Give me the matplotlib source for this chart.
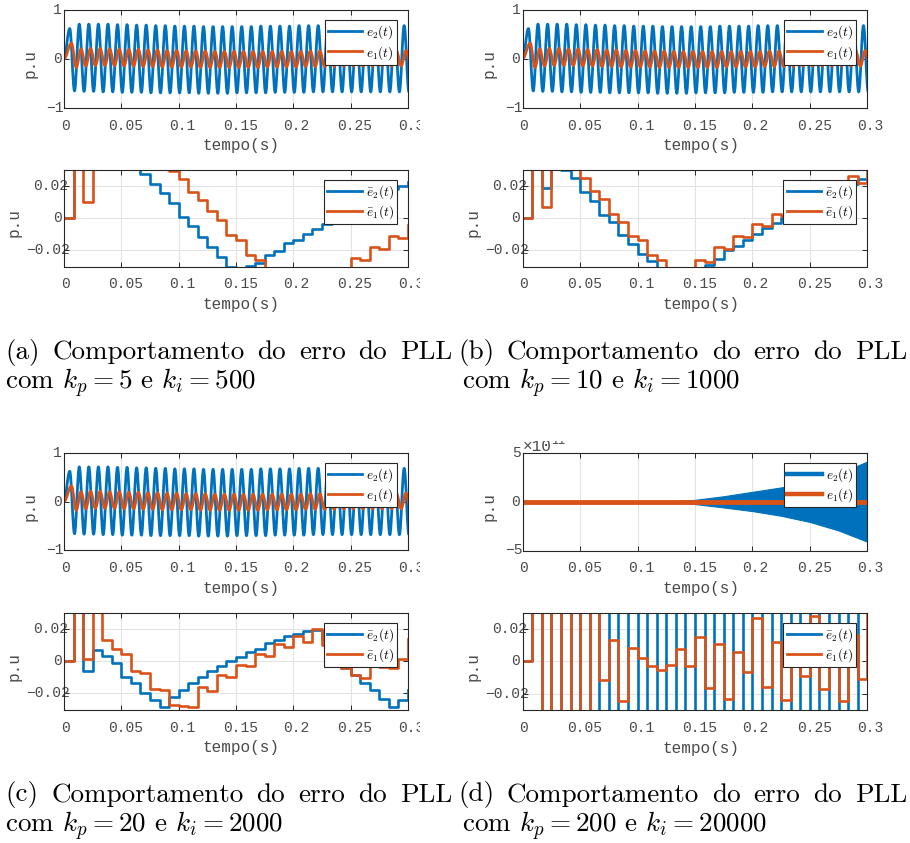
import numpy as np
import matplotlib
matplotlib.use("Agg")
import matplotlib.pyplot as plt
from matplotlib.path import Path
from matplotlib.patches import PathPatch, Rectangle
from matplotlib.lines import Line2D
from matplotlib.transforms import blended_transform_factory, offset_copy

# ---------------- data ----------------
X_TICKS = [0, 0.05, 0.1, 0.15, 0.2, 0.25, 0.3]
X_TICKLABELS = ["0", "0.05", "0.1", "0.15", "0.2", "0.25", "0.3"]
TOP_YTICKS = [-1, 0, 1]
TOP_YTICKLABELS = ["\u22121", "0", "1"]
BOT_YTICKS = [-0.02, 0, 0.02]
BOT_YTICKLABELS = ["\u22120.02", "0", "0.02"]
D_YTICKS = [-5e11, 0, 5e11]
D_YTICKLABELS = ["\u22125", "0", "5"]

OSC_FREQ = 120.0          # Hz, oscillation of e1/e2
STEP_PERIOD = 1 / 120.0   # s, sample period of the averaged errors
E2_FIRST_PEAK = 0.0050
E1_FIRST_PEAK = 0.0065

# top panels (a), (b), (c): extrema of each cycle
E2_PEAKS = [0.62, 0.71, 0.71, 0.71, 0.71, 0.70, 0.70, 0.69, 0.69, 0.68, 0.68, 0.67,
            0.67, 0.67, 0.66, 0.66, 0.66, 0.66, 0.66, 0.66, 0.67, 0.67, 0.67, 0.67,
            0.68, 0.68, 0.68, 0.68, 0.68, 0.68, 0.68, 0.68, 0.68, 0.68, 0.68, 0.68]
E2_TROUGHS = [-0.66, -0.67, -0.67, -0.68, -0.68, -0.69, -0.69, -0.69, -0.70, -0.70, -0.70, -0.70,
              -0.70, -0.71, -0.71, -0.71, -0.71, -0.70, -0.70, -0.70, -0.70, -0.69, -0.69, -0.69,
              -0.69, -0.68, -0.68, -0.68, -0.68, -0.68, -0.68, -0.68, -0.68, -0.68, -0.68, -0.68]
E1_PEAKS = [0.32, 0.20, 0.21, 0.21, 0.20, 0.20, 0.19, 0.19, 0.18, 0.18, 0.17, 0.17,
            0.16, 0.16, 0.16, 0.15, 0.15, 0.15, 0.15, 0.15, 0.15, 0.15, 0.15, 0.15,
            0.15, 0.16, 0.16, 0.16, 0.16, 0.16, 0.16, 0.17, 0.17, 0.17, 0.17, 0.17]
E1_TROUGHS = [-0.18, -0.15, -0.14, -0.14, -0.14, -0.15, -0.15, -0.16, -0.16, -0.17, -0.17, -0.17,
              -0.17, -0.18, -0.18, -0.18, -0.18, -0.18, -0.18, -0.18, -0.17, -0.17, -0.17, -0.17,
              -0.16, -0.16, -0.16, -0.16, -0.15, -0.15, -0.15, -0.15, -0.15, -0.15, -0.15, -0.15]

# panel (d) top: envelope of the diverging e2 (x 1e11) and e1
D_ENV_T = [0.0, 0.10, 0.12, 0.14, 0.15, 0.175, 0.20, 0.225, 0.25, 0.275, 0.30]
D_ENV_UP = [0.0, 0.0, 0.03, 0.10, 0.18, 0.55, 1.00, 1.45, 2.00, 2.85, 4.10]
D_ENV_LO = [0.0, 0.0, -0.04, -0.15, -0.25, -0.60, -0.97, -1.45, -2.08, -2.95, -4.10]
D_E1_T = [0.0, 0.30]
D_E1 = [0.0, 0.0]

# lower panels: averaged errors, one value per sample (37 values, off-scale when beyond +/-0.03)
A_EB2 = [0, 0.06, 0.06, 0.06, 0.06, 0.06, 0.06, 0.06, 0.0275, 0.0213, 0.0155, 0.0093,
         0.0006, -0.0048, -0.0118, -0.018, -0.0242, -0.0305, -0.0315, -0.0296, -0.028, -0.0228,
         -0.0207, -0.0155, -0.0135, -0.0097, -0.0068, -0.0035, -0.0006, 0.003, 0.006, 0.009,
         0.012, 0.015, 0.018, 0.020, 0.0225]
A_EB1 = [0, 0.06, 0.0099, 0.06, 0.06, 0.06, 0.06, 0.06, 0.06, 0.06, 0.06, 0.029,
         0.024, 0.016, 0.011, 0.0041, -0.0014, -0.0103, -0.0135, -0.0228, -0.026, -0.06,
         -0.06, -0.06, -0.06, -0.06, -0.06, -0.06, -0.06, -0.06, -0.0248, -0.026,
         -0.018, -0.0193, -0.0114, -0.0124, -0.0045]
B_EB2 = [0, 0.06, 0.0185, 0.06, 0.0298, 0.0248, 0.0158, 0.0105, 0.002, -0.0027, -0.0105, -0.0158,
         -0.0225, -0.0263, -0.06, -0.06, -0.06, -0.06, -0.06, -0.0288, -0.0253, -0.020,
         -0.0175, -0.0133, -0.0099, -0.0063, -0.0032, 0.0, 0.003, 0.007, 0.010, 0.013,
         0.016, 0.019, 0.021, 0.024, 0.024]
B_EB1 = [0, 0.06, 0.007, 0.06, 0.06, 0.06, 0.0248, 0.0164, 0.0116, 0.0025, -0.0027, -0.0112,
         -0.0137, -0.0227, -0.0257, -0.06, -0.06, -0.06, -0.0257, -0.027, -0.0179, -0.0194,
         -0.0112, -0.012, -0.0036, -0.0048, 0.0027, 0.0015, 0.008, 0.007, 0.013, 0.012,
         0.018, 0.017, 0.026, 0.0217, 0.06]
C_EB2 = [0, 0.06, -0.006, 0.0068, 0.0031, -0.001, -0.0096, -0.0137, -0.0199, -0.024, -0.0285, -0.022,
         -0.0178, -0.0137, -0.010, -0.006, -0.0031, 0.0, 0.0027, 0.0057, 0.0078, 0.0113,
         0.0129, 0.0154, 0.017, 0.0187, 0.019, 0.014, -0.0015, -0.0045, -0.0086, -0.0133,
         -0.0178, -0.0236, -0.0285, -0.024, -0.0178]
C_EB1 = [0, 0.06, 0.001, 0.06, 0.0129, 0.0072, 0.0047, -0.006, -0.0072, -0.0174, -0.0178, -0.027,
         -0.028, -0.0285, -0.0158, -0.0183, -0.0086, -0.010, -0.0025, -0.0031, 0.0047, 0.0031,
         0.0109, 0.0088, 0.0154, 0.0119, 0.0201, 0.0098, 0.005, -0.0045, -0.0086, -0.0107,
         0.012, -0.0035, -0.004, 0.001, 0.014]
D_EB2 = [0, 1, -1, 1, -1, 1, -1, 1, -1, 1, -1, 1, -1, 1, -1, 1, -1, 1, -1, 1, -1, 1,
         -1, 1, -1, 1, -1, 1, -1, 1, -1, 1, -1, 1, -1, 1, 1]
D_EB1 = [0, 1, -1, 1, -1, 1, -1, 1, -0.0118, 0.0131, -0.0246, 0.008,
         0.0023, -0.0027, -0.0051, -0.002, 0.0076, -0.0027, 0.0152, -0.0162, 0.011, -0.0232,
         0.0055, -0.0068, 0.0265, -0.016, 0.0117, -0.0236, 0.012, -0.009, 0.028, -0.017,
         0.015, -0.0246, 0.016, -0.0107, 1]

CAPTIONS = [
    (["(a)", "Comportamento", "do", "erro", "do", "PLL"], r"com $k_p = 5$ e $k_i = 500$"),
    (["(b)", "Comportamento", "do", "erro", "do", "PLL"], r"com $k_p = 10$ e $k_i = 1000$"),
    (["(c)", "Comportamento", "do", "erro", "do", "PLL"], r"com $k_p = 20$ e $k_i = 2000$"),
    (["(d)", "Comportamento", "do", "erro", "do", "PLL"], r"com $k_p = 200$ e $k_i = 20000$"),
]

# ---------------- style ----------------
BLUE = "#0072BD"
ORANGE = "#D95319"
AX_COLOR = "#262626"
TXT_COLOR = "#4a4a4a"
MONO = "Liberation Mono"
LS = 10.5          # tick label size
MCHAR = 6.6        # px per char used to anchor labels (as in the source export)
plt.rcParams["font.family"] = MONO
plt.rcParams["mathtext.fontset"] = "cm"

W, H = 910, 843
fig = plt.figure(figsize=(W / 100, H / 100), dpi=100)
fig.patch.set_facecolor("white")


def ax_at(l, t, r, b):
    return fig.add_axes([l / W, 1 - b / H, (r - l) / W, (b - t) / H])


def style(ax, ylim, yticks, yticklabels, ylab_x):
    ax.set_xlim(0, 0.3)
    ax.set_ylim(*ylim)
    ax.set_xticks(X_TICKS)
    ax.set_yticks(yticks)
    ax.tick_params(direction="in", length=3.5, width=0.7, top=True, right=True,
                   color=AX_COLOR, labelbottom=False, labelleft=False)
    ax.grid(True, color="#e3e3e3", lw=0.8)
    ax.set_axisbelow(True)
    for s in ax.spines.values():
        s.set_color(AX_COLOR)
        s.set_linewidth(0.8)
        s.set_zorder(5)
    # tick labels, left-anchored like the original export
    bx = blended_transform_factory(ax.transData, ax.transAxes)
    for v, s in zip(X_TICKS, X_TICKLABELS):
        tr = offset_copy(bx, fig=fig, x=-len(s) * MCHAR / 2, y=-18, units="dots")
        ax.text(v, 0, s, transform=tr, ha="left", va="center", fontsize=LS,
                color=TXT_COLOR, clip_on=False)
    by = blended_transform_factory(ax.transAxes, ax.transData)
    for v, s in zip(yticks, yticklabels):
        tr = offset_copy(by, fig=fig, x=-4.5 - len(s) * MCHAR, y=0, units="dots")
        ax.text(0, v, s, transform=tr, ha="left", va="center", fontsize=LS,
                color=TXT_COLOR, clip_on=False)
    bb = ax.get_position()
    axw, axh = bb.width * W, bb.height * H
    ax.set_xlabel("tempo(s)", fontsize=11.5, color=TXT_COLOR, ha="left", va="center")
    ax.set_ylabel("p.u", fontsize=11.5, color=TXT_COLOR)
    ax.xaxis.set_label_coords(0.5 - 33 / axw, -38 / axh)
    ax.yaxis.set_label_coords(ylab_x / axw, 0.5 - 5 / axh)


def legend(ax, labels, lw=2.0):
    handles = [Line2D([], [], color=BLUE, lw=lw), Line2D([], [], color=ORANGE, lw=lw)]
    bb = ax.get_position()
    axw, axh = bb.width * W, bb.height * H
    leg = ax.legend(handles, labels, loc="upper right",
                    bbox_to_anchor=(1 - 11 / axw, 1 - 10 / axh), borderaxespad=0,
                    fontsize=9.5, handlelength=2.6, handletextpad=0.3, labelspacing=0.2,
                    borderpad=0.25, fancybox=False, framealpha=1, edgecolor=AX_COLOR)
    leg.get_frame().set_linewidth(0.8)
    leg.set_zorder(10)


def smooth(ax, t, y, color, lw, z):
    verts = [(t[0], y[0])]
    codes = [Path.MOVETO]
    for i in range(len(t) - 1):
        dt = t[i + 1] - t[i]
        verts += [(t[i] + 0.36 * dt, y[i]), (t[i + 1] - 0.36 * dt, y[i + 1]), (t[i + 1], y[i + 1])]
        codes += [Path.CURVE4] * 3
    ax.add_patch(PathPatch(Path(verts, codes), facecolor="none", edgecolor=color,
                           lw=lw, zorder=z, joinstyle="round"))


def osc(t_first, peaks, troughs):
    per = 1 / OSC_FREQ
    t, y = [0.0], [0.0]
    for k, (p, q) in enumerate(zip(peaks, troughs)):
        t += [t_first + k * per, t_first + k * per + per / 2]
        y += [p, q]
    return t, y


def top_panel(ax):
    t2, y2 = osc(E2_FIRST_PEAK, E2_PEAKS, E2_TROUGHS)
    t1, y1 = osc(E1_FIRST_PEAK, E1_PEAKS, E1_TROUGHS)
    smooth(ax, t2, y2, BLUE, 2.0, 3)
    smooth(ax, t1, y1, ORANGE, 2.0, 4)
    style(ax, (-1, 1), TOP_YTICKS, TOP_YTICKLABELS, -26)
    legend(ax, [r"$e_2(t)$", r"$e_1(t)$"])


def bottom_panel(ax, eb2, eb1):
    ts = np.arange(len(eb2)) * STEP_PERIOD
    ax.step(ts, eb2, where="post", color=BLUE, lw=1.9, zorder=3)
    ax.step(ts, eb1, where="post", color=ORANGE, lw=1.9, zorder=4)
    style(ax, (-0.03, 0.03), BOT_YTICKS, BOT_YTICKLABELS, -42)
    legend(ax, [r"$\bar{e}_2(t)$", r"$\bar{e}_1(t)$"])


LX = (64, 408)
RX = (522.7, 867.3)

ax = ax_at(LX[0], 10, LX[1], 107.5)
top_panel(ax)
ax = ax_at(LX[0], 169.5, LX[1], 266.5)
bottom_panel(ax, A_EB2, A_EB1)

ax = ax_at(RX[0], 10, RX[1], 107.5)
top_panel(ax)
ax = ax_at(RX[0], 169.5, RX[1], 266.5)
bottom_panel(ax, B_EB2, B_EB1)

ax = ax_at(LX[0], 452.7, LX[1], 550.3)
top_panel(ax)
ax = ax_at(LX[0], 612.7, LX[1], 709.5)
bottom_panel(ax, C_EB2, C_EB1)

# (d) top
ax = ax_at(RX[0], 452.7, RX[1], 550.5)
scale = 1e11
ax.fill_between(D_ENV_T, np.array(D_ENV_LO) * scale, np.array(D_ENV_UP) * scale,
                color=BLUE, lw=0.8, zorder=3)
ax.plot(D_E1_T, D_E1, color=ORANGE, lw=3.5, zorder=4, solid_capstyle="butt")
style(ax, (-5e11, 5e11), D_YTICKS, D_YTICKLABELS, -26)
# exponent label of the y axis
fig.text(523 / W, 1 - 447 / H, "\u00d710", fontsize=11.5, color=TXT_COLOR,
         ha="left", va="center")
fig.text(551 / W, 1 - 441 / H, "11", fontsize=8.5, color=TXT_COLOR,
         ha="left", va="center")
legend(ax, [r"$e_2(t)$", r"$e_1(t)$"], lw=3.2)

ax = ax_at(RX[0], 612.7, RX[1], 710)
bottom_panel(ax, D_EB2, D_EB1)

# white masks imitating the cropped sub-figure images
for (x0, y0, x1, y1) in [(420, 0, 454, 300), (420, 440, 454, 740), (455, 420, 910, 440.5)]:
    fig.patches.append(Rectangle((x0 / W, 1 - y1 / H), (x1 - x0) / W, (y1 - y0) / H,
                                 transform=fig.transFigure, facecolor="white",
                                 edgecolor="none", zorder=100))

# captions (first line justified)
CAP_FS = 19.5
cap_pos = [(5, 452, 462, 352, 383), (458, 907, 462, 352, 383),
           (5, 452, 462, 795, 826), (458, 907, 462, 795, 826)]
fig.canvas.draw()
renderer = fig.canvas.get_renderer()
for i, (words, line2) in enumerate(CAPTIONS):
    x0, x1, x2, y1c, y2c = cap_pos[i]
    texts = [fig.text(0, 1 - y1c / H, w, fontsize=CAP_FS, family="cmr10",
                      va="center", ha="left", color="black") for w in words]
    widths = [t.get_window_extent(renderer).width for t in texts]
    gap = ((x1 - x0) - sum(widths)) / (len(words) - 1)
    x = x0
    for t, wd in zip(texts, widths):
        t.set_x(x / W)
        x += wd + gap
    lx = x0 if i % 2 == 0 else x2
    fig.text(lx / W, 1 - y2c / H, line2, fontsize=CAP_FS, family="cmr10",
             va="center", ha="left", color="black")

fig.savefig("out.png", dpi=100, facecolor="white")
